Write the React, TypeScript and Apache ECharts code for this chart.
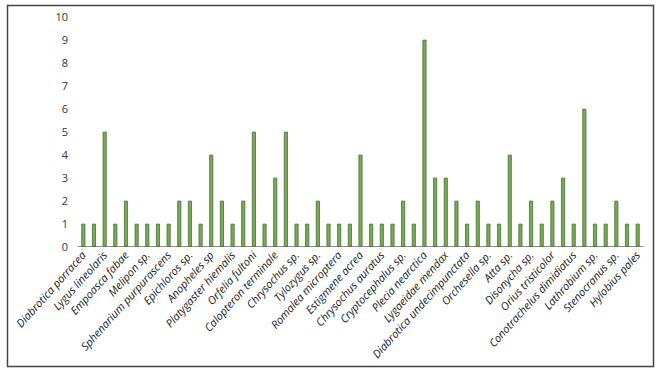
import React, { useEffect, useRef } from "react";
import * as echarts from "echarts";

const labeledSpecies = [
  "Diabrotica porracea", "Lygus lineolaris", "Empoasca fabae", "Melipon sp.",
  "Sphenarium purpurascens", "Epichloros sp.", "Anopheles sp", "Platygaster hiemalis",
  "Orfelia fultoni", "Calopteron terminale", "Chrysochus sp.", "Tylozygus sp.",
  "Romalea microptera", "Estigmene acrea", "Chrysochus auratus", "Cryptocephalus sp.",
  "Plecia nearctica", "Lygaeidae mendax", "Diabrotica undecimpunctata", "Orchesella sp.",
  "Atta sp.", "Disonycha sp.", "Orius tristicolor", "Conotrachelus dimidiatus",
  "Lathrobium sp.", "Stenocranus sp.", "Hylobius pales",
];

const counts = [
  1, 1, 5, 1, 2, 1, 1, 1, 1, 2, 2, 1, 4, 2, 1, 2, 5, 1, 3, 5, 1, 1, 2, 1, 1, 1, 4,
  1, 1, 1, 2, 1, 9, 3, 3, 2, 1, 2, 1, 1, 4, 1, 2, 1, 2, 3, 1, 6, 1, 1, 2, 1, 1,
];

const yTicks = [0, 1, 2, 3, 4, 5, 6, 7, 8, 9, 10];

// every other category is labeled in the source; unlabeled ones get empty names
const categories: string[] = counts.map((_, i) => (i % 2 === 0 ? labeledSpecies[i / 2] : ""));

export default function App() {
  const ref = useRef<HTMLDivElement>(null);
  useEffect(() => {
    if (!ref.current) return;
    const chart = echarts.init(ref.current, undefined, { renderer: "svg" });
    chart.setOption({
      animation: false,
      backgroundColor: "#ffffff",
      graphic: [
        {
          type: "rect",
          shape: { x: 7.5, y: 5.5, width: 646, height: 361 },
          style: { fill: "none", stroke: "#444444", lineWidth: 1.5 },
          z: 0,
        },
      ],
      grid: { left: 78, right: 22, top: 16.7, bottom: 128.3 },
      xAxis: {
        type: "category",
        data: categories,
        axisLine: { show: true, lineStyle: { color: "#8c8c8c", width: 1 } },
        axisTick: { show: false },
        axisLabel: {
          interval: 0,
          rotate: 48,
          margin: 6,
          fontFamily: "Open Sans",
          fontStyle: "italic",
          fontSize: 11,
          color: "#1a1a1a",
        },
      },
      yAxis: {
        type: "value",
        min: yTicks[0],
        max: yTicks[yTicks.length - 1],
        interval: 1,
        splitLine: { show: false },
        axisLine: { show: false },
        axisTick: { show: false },
        axisLabel: {
          margin: 10,
          fontFamily: "Open Sans",
          fontSize: 11,
          color: "#333333",
        },
      },
      series: [
        {
          type: "bar",
          data: counts,
          barWidth: 4,
          itemStyle: { color: "#7aa95a", borderColor: "#46702f", borderWidth: 0.8 },
        },
      ],
    });
    return () => chart.dispose();
  }, []);
  return (
    <div
      ref={ref}
      style={{ position: "fixed", left: 0, top: 0, width: 665, height: 375 }}
    />
  );
}
